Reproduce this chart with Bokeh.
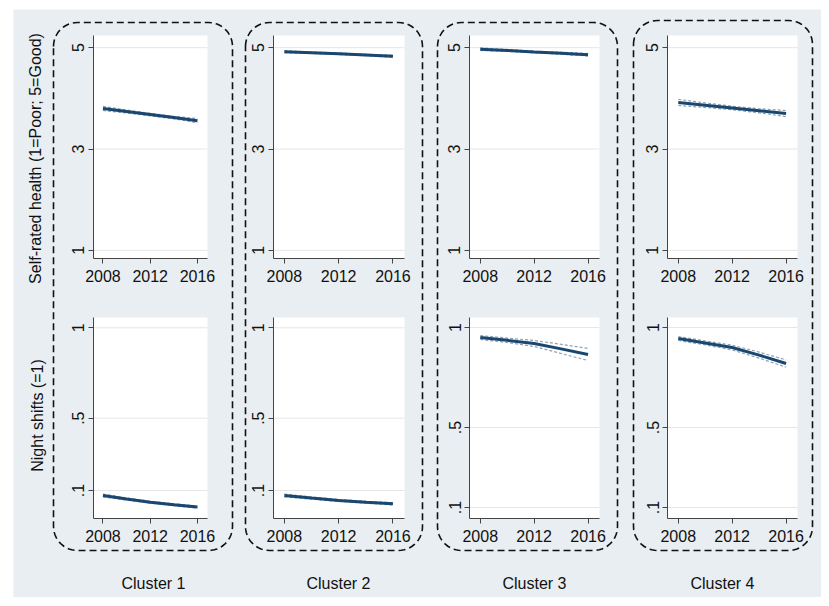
import numpy as np
from bokeh.plotting import figure
from bokeh.layouts import row, column
from bokeh.models import FixedTicker, LinearAxis, Range1d, Label, Spacer
from bokeh.embed import file_html
from bokeh.resources import INLINE

# ---------------- data ----------------
years = [2008, 2010, 2012, 2014, 2016]
clusters = ["Cluster 1", "Cluster 2", "Cluster 3", "Cluster 4"]

srh_title = "Self-rated health (1=Poor; 5=Good)"
ns_title = "Night shifts (=1)"

srh_ticks = [1, 3, 5]
srh_tick_labels = ["1", "3", "5"]
ns_ticks = [0.1, 0.5, 1]
ns_tick_labels = [".1", ".5", "1"]
year_ticks = [2008, 2012, 2016]

srh_mean = [
    [3.80, 3.74, 3.68, 3.62, 3.56],
    [4.92, 4.90, 4.88, 4.855, 4.83],
    [4.97, 4.945, 4.915, 4.89, 4.86],
    [3.92, 3.865, 3.81, 3.755, 3.70],
]
srh_lo = [
    [3.76, 3.71, 3.655, 3.595, 3.52],
    [4.90, 4.885, 4.865, 4.84, 4.81],
    [4.945, 4.925, 4.90, 4.87, 4.835],
    [3.86, 3.82, 3.775, 3.715, 3.64],
]
srh_hi = [
    [3.84, 3.77, 3.705, 3.645, 3.60],
    [4.94, 4.915, 4.895, 4.87, 4.85],
    [4.995, 4.965, 4.93, 4.91, 4.885],
    [3.98, 3.91, 3.845, 3.795, 3.76],
]

ns_mean = [
    [0.072, 0.053, 0.035, 0.021, 0.008],
    [0.072, 0.058, 0.045, 0.035, 0.026],
    [0.950, 0.936, 0.920, 0.893, 0.865],
    [0.945, 0.923, 0.900, 0.862, 0.820],
]
ns_lo = [
    [0.064, 0.047, 0.030, 0.016, 0.002],
    [0.064, 0.052, 0.040, 0.030, 0.020],
    [0.940, 0.925, 0.905, 0.870, 0.835],
    [0.935, 0.913, 0.888, 0.847, 0.802],
]
ns_hi = [
    [0.080, 0.059, 0.040, 0.026, 0.014],
    [0.080, 0.064, 0.050, 0.040, 0.032],
    [0.960, 0.947, 0.935, 0.916, 0.895],
    [0.955, 0.933, 0.912, 0.877, 0.838],
]

srh_extent = (0.84, 5.24)
ns_extents = [(-0.055, 1.057), (-0.055, 1.057), (0.045, 1.05), (0.045, 1.05)]
x_extent = (2007.2, 2016.85)

# ---------------- layout / style ----------------
BG = "#e8eef1"
FONT = "Liberation Sans"
LINE_C = "#1a476f"
CI_C = "#8ea2b6"
AX_C = "#444444"
TXT_C = "#111111"

W, H = 808, 588                      # light-blue graph region
col_px = [(80, 194), (260, 391), (456, 586), (654, 784)]   # plot regions (px)
row_py = [(26, 249), (308, 509)]                          # top / bottom rows (px)
box_px = [(40, 219), (232, 409), (424, 604), (620, 799)]   # dashed cluster frames
box_py = [(13, 541), (13, 541), (13, 541), (11, 541)]
R = 24

p = figure(width=W, height=H, x_range=Range1d(0, W), y_range=Range1d(H, 0),
           output_backend="svg", toolbar_location=None,
           x_axis_location=None, y_axis_location=None, min_border=0,
           background_fill_color=BG, border_fill_color=BG, outline_line_color=None)
p.grid.visible = False


def x_map(a, b, p0, p1):
    s = (b - a) / (p1 - p0)
    return Range1d(a - p0 * s, b + (W - p1) * s)


def y_map(a, b, p0, p1):
    s = (b - a) / (p1 - p0)
    return Range1d(a - (H - p1) * s, b + p0 * s)


def style_axis(ax, standoff):
    ax.axis_line_color = AX_C
    ax.axis_line_width = 1
    ax.major_tick_line_color = AX_C
    ax.major_tick_out = 5
    ax.major_tick_in = 0
    ax.minor_tick_line_color = None
    ax.major_label_text_font = FONT
    ax.major_label_text_font_size = "16px"
    ax.major_label_text_color = TXT_C
    ax.major_label_standoff = standoff


for i in range(4):
    xn = f"x{i}"
    p.extra_x_ranges[xn] = x_map(x_extent[0], x_extent[1], *col_px[i])
    for r in range(2):
        yn = f"y{r}{i}"
        if r == 0:
            ylo, yhi = srh_extent
            ticks, labels = srh_ticks, srh_tick_labels
            m, lo, hi = srh_mean[i], srh_lo[i], srh_hi[i]
        else:
            ylo, yhi = ns_extents[i]
            ticks, labels = ns_ticks, ns_tick_labels
            m, lo, hi = ns_mean[i], ns_lo[i], ns_hi[i]
        p.extra_y_ranges[yn] = y_map(ylo, yhi, *row_py[r])
        kw = dict(x_range_name=xn, y_range_name=yn)

        # white plot region
        p.quad(left=x_extent[0], right=x_extent[1], bottom=ylo, top=yhi,
               fill_color="white", line_color=None, **kw)
        # horizontal gridlines at the y ticks
        n = len(ticks)
        p.segment(x0=[x_extent[0]] * n, x1=[x_extent[1]] * n, y0=ticks, y1=ticks,
                  line_color="#e6e6e6", line_width=1, **kw)
        # CI and fitted line
        p.line(years, lo, line_color=CI_C, line_width=1.2, line_dash="3 2", **kw)
        p.line(years, hi, line_color=CI_C, line_width=1.2, line_dash="3 2", **kw)
        p.line(years, m, line_color=LINE_C, line_width=3, **kw)

        xa = LinearAxis(x_range_name=xn, y_range_name=yn, fixed_location=ylo,
                        bounds=x_extent, ticker=FixedTicker(ticks=year_ticks))
        style_axis(xa, 6)
        p.add_layout(xa, "below")

        ya = LinearAxis(x_range_name=xn, y_range_name=yn, fixed_location=x_extent[0],
                        bounds=(ylo, yhi), ticker=FixedTicker(ticks=ticks))
        style_axis(ya, 4)
        ya.major_label_overrides = {t: l for t, l in zip(ticks, labels)}
        ya.major_label_orientation = "vertical"
        p.add_layout(ya, "left")

    # dashed rounded frame around each cluster column
    x0, x1 = box_px[i]
    y0, y1 = box_py[i]
    xs, ys = [], []
    for cx, cy, a0 in [(x0 + R, y0 + R, np.pi), (x1 - R, y0 + R, 1.5 * np.pi),
                       (x1 - R, y1 - R, 0.0), (x0 + R, y1 - R, 0.5 * np.pi)]:
        a = np.linspace(a0, a0 + 0.5 * np.pi, 14)
        xs += list(cx + R * np.cos(a))
        ys += list(cy + R * np.sin(a))
    xs.append(xs[0]); ys.append(ys[0])
    p.line(xs, ys, line_color=TXT_C, line_width=1.6, line_dash="7 4")

# titles
lab_kw = dict(text_font=FONT, text_font_size="16px", text_color=TXT_C,
              text_align="center", text_baseline="middle")
p.add_layout(Label(x=22, y=149, text=srh_title, angle=90, angle_units="deg", **lab_kw))
p.add_layout(Label(x=24, y=406, text=ns_title, angle=90, angle_units="deg", **lab_kw))
cluster_cx = [140, 325, 521, 709]
for i in range(4):
    p.add_layout(Label(x=cluster_cx[i], y=574, text=clusters[i], **lab_kw))

page = column([Spacer(height=9), row([Spacer(width=13), p], spacing=0)], spacing=0)
open("out.html", "w").write(file_html(page, INLINE))
